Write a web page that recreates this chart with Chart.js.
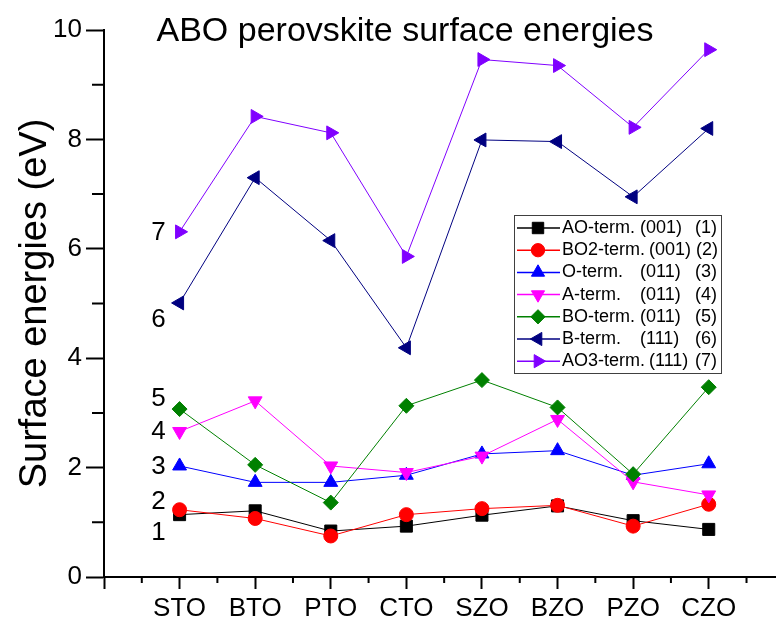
<!DOCTYPE html>
<html>
<head>
<meta charset="utf-8">
<title>ABO perovskite surface energies</title>
<script src="https://cdn.jsdelivr.net/npm/chart.js@4.4.1/dist/chart.umd.min.js"></script>
<style>
  html, body { margin: 0; padding: 0; background: #fff; }
  #wrap { width: 776px; height: 622px; }
</style>
</head>
<body>
<div id="wrap"><canvas id="chart" width="776" height="622"></canvas></div>
<script>
// Compounds on the x axis (placed at x = 1..8)
const COMPOUNDS = ["STO", "BTO", "PTO", "CTO", "SZO", "BZO", "PZO", "CZO"];

// Surface energies in eV, one list per termination
const AO_001  = [1.14, 1.21, 0.84, 0.93, 1.13, 1.30, 1.03, 0.87];
const BO2_001 = [1.23, 1.07, 0.75, 1.14, 1.25, 1.31, 0.93, 1.33];
const O_011   = [2.03, 1.73, 1.73, 1.86, 2.25, 2.31, 1.86, 2.07];
const A_011   = [2.66, 3.22, 2.03, 1.91, 2.21, 2.88, 1.74, 1.50];
const BO_011  = [3.07, 2.05, 1.36, 3.13, 3.60, 3.10, 1.88, 3.47];
const B_111   = [5.01, 7.30, 6.15, 4.19, 7.99, 7.96, 6.95, 8.20];
const AO3_111 = [6.31, 8.42, 8.12, 5.86, 9.46, 9.35, 8.22, 9.64];

// Numbered tags written left of the first column, and their heights (eV)
const TAGS  = ["1", "2", "3", "4", "5", "6", "7"];
const TAG_Y = [0.80, 1.38, 2.01, 2.65, 3.26, 4.70, 6.30];

const FONT = "'Liberation Sans', Arial, sans-serif";
Chart.defaults.font.family = FONT;
Chart.defaults.color = "#000";

const SERIES = [
  { name: "AO-term.",  plane: "(001)", tag: "(1)", data: AO_001,  color: "#000000", style: "rect",     rot: 0,   r: 8.5 },
  { name: "BO2-term.", plane: "(001)", tag: "(2)", data: BO2_001, color: "#ff0000", style: "circle",   rot: 0,   r: 7 },
  { name: "O-term.",   plane: "(011)", tag: "(3)", data: O_011,   color: "#0000ff", style: "triangle", rot: 0,   r: 8 },
  { name: "A-term.",   plane: "(011)", tag: "(4)", data: A_011,   color: "#ff00ff", style: "triangle", rot: 180, r: 8 },
  { name: "BO-term.",  plane: "(011)", tag: "(5)", data: BO_011,  color: "#008000", style: "rectRot",  rot: 0,   r: 7.5 },
  { name: "B-term.",   plane: "(111)", tag: "(6)", data: B_111,   color: "#000080", style: "triangle", rot: 270, r: 8 },
  { name: "AO3-term.", plane: "(111)", tag: "(7)", data: AO3_111, color: "#8000ff", style: "triangle", rot: 90,  r: 8 }
];

function drawMarker(ctx, s, x, y) {
  if (Chart.helpers && Chart.helpers.drawPoint) {
    Chart.helpers.drawPoint(ctx, { pointStyle: s.style, rotation: s.rot, radius: s.r, borderWidth: 1 }, x, y);
  } else {
    ctx.beginPath(); ctx.arc(x, y, s.r, 0, Math.PI * 2); ctx.fill(); ctx.stroke();
  }
}

// minor ticks, title, tags and the boxed legend
const extras = {
  id: "extras",
  afterDraw(chart) {
    const { ctx, chartArea: area, scales: { x, y } } = chart;
    ctx.save();
    ctx.strokeStyle = "#000";
    ctx.lineWidth = 2;
    ctx.beginPath();
    for (let v = 1; v < 10; v += 2) {
      const py = y.getPixelForValue(v);
      ctx.moveTo(area.left - 12, py); ctx.lineTo(area.left, py);
    }
    for (let v = 0.5; v < x.max; v += 1) {
      const px = x.getPixelForValue(v);
      ctx.moveTo(px, area.bottom); ctx.lineTo(px, area.bottom + 6);
    }
    ctx.stroke();

    ctx.fillStyle = "#000";
    ctx.font = "34px " + FONT;
    ctx.textAlign = "center";
    ctx.textBaseline = "alphabetic";
    ctx.fillText("ABO perovskite surface energies", 405, 41);

    ctx.font = "26px " + FONT;
    ctx.textBaseline = "middle";
    TAGS.forEach((t, i) => ctx.fillText(t, x.getPixelForValue(0.72), y.getPixelForValue(TAG_Y[i])));

    // legend box
    const bx = 514, by = 215, bw = 207, bh = 158, row = 22.2;
    ctx.lineWidth = 1;
    ctx.strokeStyle = "#404040";
    ctx.fillStyle = "#fff";
    ctx.fillRect(bx, by, bw, bh);
    ctx.strokeRect(bx + 0.5, by + 0.5, bw, bh);
    ctx.font = "18px " + FONT;
    ctx.textAlign = "left";
    SERIES.forEach((s, i) => {
      const ry = by + 13 + i * row;
      ctx.strokeStyle = s.color;
      ctx.fillStyle = s.color;
      ctx.lineWidth = 1.5;
      ctx.beginPath(); ctx.moveTo(bx + 3, ry); ctx.lineTo(bx + 46, ry); ctx.stroke();
      ctx.lineWidth = 1;
      drawMarker(ctx, { style: s.style, rot: s.rot, r: s.r * 0.95 }, bx + 24, ry);
      ctx.fillStyle = "#000";
      const tx = bx + 48;
      ctx.fillText(s.name, tx, ry);
      const px = Math.max(bx + 126, tx + ctx.measureText(s.name).width + 4);
      ctx.fillText(s.plane, px, ry);
      const nx = Math.max(bx + 181, px + ctx.measureText(s.plane).width + 5);
      ctx.fillText(s.tag, nx, ry);
    });
    ctx.restore();
  }
};

new Chart(document.getElementById("chart"), {
  type: "line",
  data: {
    datasets: SERIES.map((s, i) => ({
      label: s.name + " " + s.plane + " " + s.tag,
      data: s.data.map((v, k) => ({ x: k + 1, y: v })),
      borderColor: s.color,
      backgroundColor: s.color,
      borderWidth: 1,
      tension: 0,
      pointStyle: s.style,
      pointRotation: s.rot,
      pointRadius: s.r,
      pointBorderWidth: 1,
      pointBorderColor: s.color,
      pointBackgroundColor: s.color,
      order: SERIES.length - i
    }))
  },
  options: {
    responsive: false,
    animation: false,
    layout: { autoPadding: false, padding: { top: 30, right: 0, left: 0, bottom: 0 } },
    plugins: { legend: { display: false }, tooltip: { enabled: false } },
    scales: {
      x: {
        type: "linear",
        min: 0,
        max: 8.89,
        afterFit: s => { s.height = 45; s.paddingLeft = 0; s.paddingRight = 0; },
        border: { color: "#000", width: 2 },
        grid: { drawOnChartArea: false, tickLength: 12, tickWidth: 2, tickColor: "#000" },
        ticks: {
          stepSize: 1,
          includeBounds: false,
          autoSkip: false,
          maxRotation: 0,
          padding: 4,
          font: { size: 26 },
          callback: v => COMPOUNDS[v - 1] || ""
        }
      },
      y: {
        min: 0,
        max: 10,
        afterFit: s => { s.width = 104; },
        border: { color: "#000", width: 2 },
        grid: { drawOnChartArea: false, tickLength: 18, tickWidth: 2, tickColor: "#000" },
        ticks: { stepSize: 2, padding: 4, font: { size: 26 } },
        title: { display: true, text: "Surface energies (eV)", font: { size: 38 }, padding: { top: 13, bottom: 0 } }
      }
    }
  },
  plugins: [extras]
});
</script>
</body>
</html>
